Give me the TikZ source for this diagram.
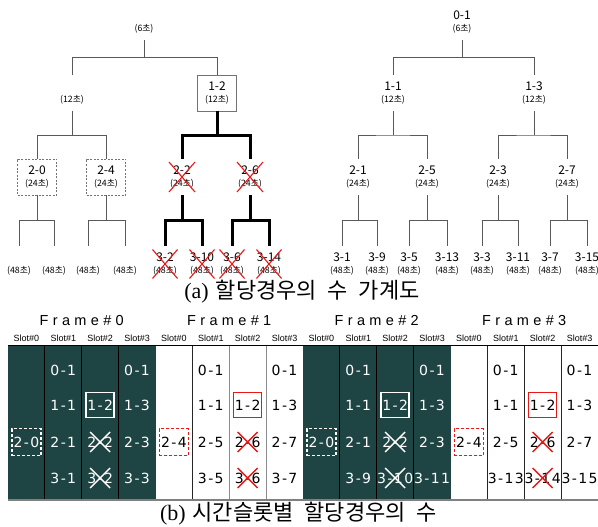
\documentclass[tikz,border=0pt]{standalone}
\usepackage{fontspec}
\setmainfont{Liberation Serif}
\newfontfamily\kr{Noto Sans CJK KR}
\newfontfamily\krw{Noto Sans CJK KR}[WordSpace=2.2]
\newfontfamily\ls{Liberation Sans}
\newfontfamily\lsw{Liberation Sans}[LetterSpace=30]
\newfontfamily\cellfont{DejaVu Sans}[LetterSpace=10]
\usetikzlibrary{calc}
\definecolor{tealdark}{RGB}{31,68,68}
\definecolor{xred}{RGB}{232,24,24}
\newcommand\tnd[5][]{\node[tn,#1] (#2) at (#3) {#4\\[-1.5pt]{\fontsize{8.8}{10}\selectfont(#5초)}};}
\newcommand\forkto[4][tline]{%
  \path ($(#2.south)!.5!(#3.north)$) coordinate (fk);
  \draw[#1] (#2.south) -- (#2.south |- fk) (#3.north) |- (#2.south |- fk) -| (#4.north);}
\newcommand\xmark[4][redx]{\draw[#1] ($(#2.center)+(-#3pt,-#4pt)$) -- ($(#2.center)+(#3pt,#4pt)$) ($(#2.center)+(-#3pt,#4pt)$) -- ($(#2.center)+(#3pt,-#4pt)$);}
\begin{document}
\begin{tikzpicture}[x=1pt,y=-1pt,
  tn/.style={minimum width=39pt,minimum height=36pt,inner sep=0pt,align=center,font=\kr\fontsize{12}{13}\selectfont},
  tline/.style={draw=black!65,line width=0.8pt},
  heavy/.style={draw=black,line width=3pt},
  tbox/.style={draw=black!55,line width=0.6pt},
  tdash/.style={draw=black!55,line width=0.6pt,dash pattern=on 2pt off 1.5pt},
  redx/.style={draw=xred,line width=1.1pt},
  cellw/.style={text=white,font=\cellfont\fontsize{14}{15}\selectfont,inner sep=0pt},
  cellb/.style={text=black,font=\cellfont\fontsize{14}{15}\selectfont,inner sep=0pt},
  wbox/.style={cellw,draw=white,line width=1.5pt,minimum width=28pt,minimum height=25pt},
  rbox/.style={cellb,draw=xred,line width=1.5pt,minimum width=28pt,minimum height=25pt},
  wdash/.style={cellw,draw=white,line width=1.4pt,dash pattern=on 3pt off 2pt,minimum width=29pt,minimum height=27pt},
  rdash/.style={cellb,draw=xred,line width=1.4pt,dash pattern=on 3pt off 2pt,minimum width=29pt,minimum height=27pt},
  wx/.style={draw=white,line width=1.4pt},
  rx/.style={draw=xred,line width=1.4pt},
  slotlbl/.style={font=\ls\fontsize{9}{10}\selectfont,inner sep=0pt},
  framelbl/.style={font=\lsw\fontsize{14.5}{15}\selectfont,inner sep=0pt},
  captxt/.style={inner sep=0pt}]
\useasboundingbox (0,0) rectangle (598,527);
\fill[white] (0,0) rectangle (598,527);
% ---------- left tree ----------
\tnd{a0}{144,22}{\phantom{0-1}}{6}
\tnd{a1}{72,93}{\phantom{1-1}}{12}
\tnd[tbox]{a2}{217,93}{1-2}{12}
\tnd[tdash]{a3}{37,177}{2-0}{24}
\tnd[tdash]{a4}{106,177}{2-4}{24}
\tnd{a5}{182,177}{2-2}{24}
\tnd{a6}{250,177}{2-6}{24}
\tnd{a7}{19,264}{\phantom{3-0}}{48}
\tnd{a8}{54,264}{\phantom{3-8}}{48}
\tnd{a9}{88,264}{\phantom{3-4}}{48}
\tnd{a10}{125,264}{\phantom{3-12}}{48}
\tnd{a11}{165,264}{3-2}{48}
\tnd{a12}{202,264}{3-10}{48}
\tnd{a13}{232,264}{3-6}{48}
\tnd{a14}{269,264}{3-14}{48}
\forkto{a0}{a1}{a2}
\forkto{a1}{a3}{a4}
\forkto{a3}{a7}{a8}
\forkto{a4}{a9}{a10}
\forkto[heavy]{a2}{a5}{a6}
\forkto[heavy]{a5}{a11}{a12}
\forkto[heavy]{a6}{a13}{a14}
\xmark{a5}{13}{15}
\xmark{a6}{13}{15}
\xmark{a11}{12.5}{14.5}
\xmark{a12}{12.5}{14.5}
\xmark{a13}{12.5}{14.5}
\xmark{a14}{12.5}{14.5}
% ---------- right tree ----------
\tnd{b0}{462,22}{0-1}{6}
\tnd{b1}{393,93}{1-1}{12}
\tnd{b2}{534,93}{1-3}{12}
\tnd{b3}{358,177}{2-1}{24}
\tnd{b4}{427,177}{2-5}{24}
\tnd{b5}{498,177}{2-3}{24}
\tnd{b6}{567,177}{2-7}{24}
\tnd{b7}{342,264}{3-1}{48}
\tnd{b8}{377,264}{3-9}{48}
\tnd{b9}{409,264}{3-5}{48}
\tnd{b10}{447,264}{3-13}{48}
\tnd{b11}{482,264}{3-3}{48}
\tnd{b12}{518,264}{3-11}{48}
\tnd{b13}{550,264}{3-7}{48}
\tnd{b14}{587,264}{3-15}{48}
\forkto{b0}{b1}{b2}
\forkto{b1}{b3}{b4}
\forkto{b2}{b5}{b6}
\forkto{b3}{b7}{b8}
\forkto{b4}{b9}{b10}
\forkto{b5}{b11}{b12}
\forkto{b6}{b13}{b14}
% caption (a)
\node[captxt] (capa) at (302,292) {\fontsize{22}{24}\selectfont (a)\hspace{7pt}{\krw 할당경우의 수 가계도}};
% ---------- table ----------
\begin{scope}[shift={(8pt,0pt)},x=36.875pt]
\fill[tealdark] (0,345) rectangle (4,500);
\fill[tealdark] (8,345) rectangle (12,500);
\foreach \i in {1,2,3,9,10,11} {\draw[black,line width=0.8pt] (\i,345) -- (\i,500);}
\foreach \i in {5,13,14,15} {\draw[black!85,line width=0.8pt] (\i,345) -- (\i,500);}
\foreach \i in {6,7} {\draw[black!45,line width=0.9pt] (\i,345) -- (\i,500);}
\draw[black,line width=0.8pt] (0,345) -- (16,345);
\draw[black!50,line width=1.6pt] (0,500) -- (16,500);
\foreach \f in {0,1,2,3} {\node[framelbl] (fr\f) at ({4*\f+2},321) {Frame\#\f};}
\foreach \f in {0,1,2,3} {\foreach \s in {0,1,2,3} {\node[slotlbl] (sl\f\s) at ({4*\f+\s+0.5},338) {Slot\#\s};}}
\foreach \c/\y/\tx in {1/370/0-1,1/405/1-1,1/442/2-1,1/478/3-1,
  3/370/0-1,3/405/1-3,3/442/2-3,3/478/3-3,
  9/370/0-1,9/405/1-1,9/442/2-1,9/478/3-9,
  11/370/0-1,11/405/1-3,11/442/2-3,11/478/3-11,
  2/442/2-2,2/478/3-2,10/442/2-2,10/478/3-10}
  {\node[cellw] (c\c-\y) at (\c+0.5,\y) {\tx};}
\foreach \c/\y/\tx in {5/370/0-1,5/405/1-1,5/442/2-5,5/478/3-5,
  7/370/0-1,7/405/1-3,7/442/2-7,7/478/3-7,
  13/370/0-1,13/405/1-1,13/442/2-5,13/478/3-13,
  15/370/0-1,15/405/1-3,15/442/2-7,15/478/3-15,
  6/442/2-6,6/478/3-6,14/442/2-6,14/478/3-14}
  {\node[cellb] (c\c-\y) at (\c+0.5,\y) {\tx};}
\node[wbox] (c2-405) at (2.5,405) {1-2};
\node[wbox] (c10-405) at (10.5,405) {1-2};
\node[rbox] (c6-405) at (6.5,405) {1-2};
\node[rbox] (c14-405) at (14.5,405) {1-2};
\node[wdash] (c0-442) at (0.5,442) {2-0};
\node[wdash] (c8-442) at (8.5,442) {2-0};
\node[rdash] (c4-442) at (4.5,442) {2-4};
\node[rdash] (c12-442) at (12.5,442) {2-4};
\foreach \n in {c2-442,c2-478,c10-442,c10-478} {\xmark[wx]{\n}{10}{10}}
\foreach \n in {c6-442,c6-478,c14-442,c14-478} {\xmark[rx]{\n}{10}{10}}
\end{scope}
\node[captxt] (capb) at (298.5,514) {\fontsize{22}{24}\selectfont (b)\hspace{7pt}{\krw 시간슬롯별 할당경우의 수}};
\end{tikzpicture}
\end{document}
